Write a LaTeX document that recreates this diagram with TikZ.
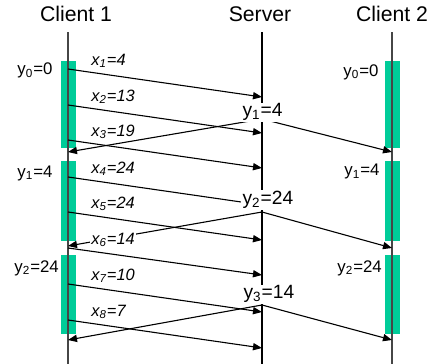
\documentclass[tikz,border=0pt]{standalone}
\usepackage{fontspec}
\setmainfont{Liberation Sans}
\usetikzlibrary{arrows.meta}
\definecolor{barteal}{RGB}{0,204,153}
\definecolor{lifegray}{RGB}{70,70,70}

\begin{document}
\begin{tikzpicture}[x=0.5pt, y=-0.5pt,
head/.style={font=\fontsize{10.6}{12.7}\selectfont, inner sep=0pt, anchor=base},
bar/.style={fill=barteal, draw=none},
life/.style={draw=lifegray, line width=0.65pt},
srvline/.style={draw=black, line width=0.55pt},
msg/.style={-{Triangle[length=4.5pt, width=3.6pt]}, line width=0.55pt},
xlab/.style={font=\fontsize{8.2}{9.8}\selectfont\itshape, fill=white, inner sep=0.5pt, anchor=base west},
clab/.style={font=\fontsize{8.4}{10}\selectfont, inner sep=0pt, anchor=base west},
slab/.style={font=\fontsize{9.6}{11.5}\selectfont, fill=white, inner sep=0.6pt, anchor=base west}
]

\useasboundingbox (0,0) rectangle (435,364);

% lifelines
\node[head] (client1) at (76,22)  {Client 1};
\node[head] (server)  at (260,22) {Server};
\node[head] (client2) at (392,22) {Client 2};

\foreach \t/\b in {61/148, 161/241, 255/334} {
\fill[bar] (61,\t) rectangle (76,\b);
\fill[bar] (385,\t) rectangle (400,\b);
}

\coordinate (c1top) at (68,32);  \coordinate (c1bot) at (68,364);
\coordinate (srvtop) at (262,32); \coordinate (srvbot) at (262,364);
\coordinate (c2top) at (392,32); \coordinate (c2bot) at (392,364);
\draw[life] (c1top) -- (c1bot);
\draw[srvline] (srvtop) -- (srvbot);
\draw[life] (c2top) -- (c2bot);

% server replies
\foreach \k/\a/\l/\r in {1/119/152/152, 2/212/246/248, 3/305/340/340} {
\coordinate (apex\k) at (262,\a);
\coordinate (back\k) at (68,\l);
\coordinate (fwd\k) at (392,\r);
\draw[msg] (apex\k) -- (back\k);
\draw[msg] (apex\k) -- (fwd\k);
}

% client 1 updates
\foreach \i/\s/\e/\v in {1/69/97/4, 2/105/133/13, 3/140/168/19, 4/177/205/24,
5/212/240/24, 6/248/275/14, 7/284/312/10, 8/320/348/7} {
\coordinate (send\i) at (68,\s);
\coordinate (recv\i) at (262,\e);
\draw[msg] (send\i) -- (recv\i);
\node[xlab] (xl\i) at (90,\s-4) {x\textsubscript{\i}=\v};
}

\node[slab] (sy1) at (241,117) {y\textsubscript{1}=4};
\node[slab] (sy2) at (241,205) {y\textsubscript{2}=24};
\node[slab] (sy3) at (242,299) {y\textsubscript{3}=14};

\node[clab] (ay0) at (17,75)  {y\textsubscript{0}=0};
\node[clab] (ay1) at (17,177) {y\textsubscript{1}=4};
\node[clab] (ay2) at (14,272) {y\textsubscript{2}=24};
\node[clab] (by0) at (343,76)  {y\textsubscript{0}=0};
\node[clab] (by1) at (344,176) {y\textsubscript{1}=4};
\node[clab] (by2) at (337,272) {y\textsubscript{2}=24};

\end{tikzpicture}
\end{document}
